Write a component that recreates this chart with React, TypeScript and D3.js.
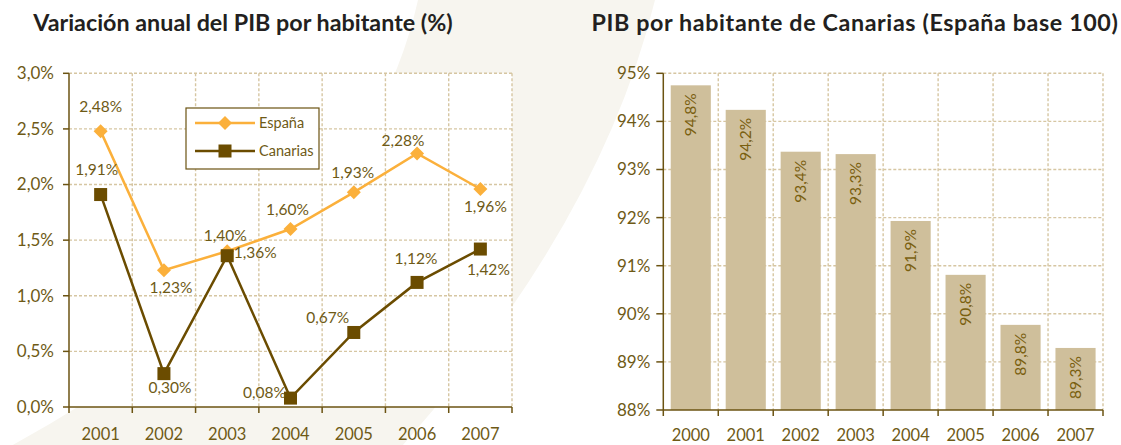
import React from "react";
import * as d3 from "d3";

const years = ["2001", "2002", "2003", "2004", "2005", "2006", "2007"];
const espana = [2.48, 1.23, 1.4, 1.6, 1.93, 2.28, 1.96];
const canarias = [1.91, 0.3, 1.36, 0.08, 0.67, 1.12, 1.42];
const leftTicks = [0, 0.5, 1, 1.5, 2, 2.5, 3];

const barYears = ["2000", "2001", "2002", "2003", "2004", "2005", "2006", "2007"];
const barValues = [94.75, 94.24, 93.37, 93.32, 91.93, 90.81, 89.77, 89.29];
const rightTicks = [88, 89, 90, 91, 92, 93, 94, 95];

// label placement (offset of label centre from its point)
const espanaLabelPos = [
  [0, -25], [7, 17], [-2, -16], [-3, -19], [-1, -20], [-14, -13], [5, 18],
];
const canariasLabelPos = [
  [-4, -25], [6, 14], [28, -3], [-26, -6], [-26, -15], [-1, -24], [8, 21],
];

const W = 1121;
const H = 445;
const FONT = "Lato, 'Open Sans', sans-serif";
const AXIS = "#6b5312";
const TEXT = "#6e5a16";
const GRID = "#d6c6a2";
const ORANGE = "#fbb03b";
const BROWN = "#6b4c00";
const BAR = "#cfbf9b";
const BAND = "#f7f5ef";

const fmt = (v: number, d: number) => v.toFixed(d).replace(".", ",");

export default function App() {
  // Left chart
  const lx0 = 69, lx1 = 512, ly0 = 73.3, ly1 = 407;
  const xL = d3.scaleBand<string>().domain(years).range([lx0, lx1]);
  const yL = d3.scaleLinear().domain([0, 3]).range([ly1, ly0]);
  const cx = (i: number) => (xL(years[i]) as number) + xL.bandwidth() / 2;
  const line = d3
    .line<number>()
    .x((_, i) => cx(i))
    .y((d) => yL(d));

  // Right chart
  const rx0 = 663.3, rx1 = 1103, ry0 = 73.3, ry1 = 410;
  const xR = d3.scaleBand<string>().domain(barYears).range([rx0, rx1]).paddingInner(0.27).paddingOuter(0.135);
  const xRb = d3.scaleBand<string>().domain(barYears).range([rx0, rx1]);
  const yR = d3.scaleLinear().domain([88, 95]).range([ry1, ry0]);

  const diamond = (x: number, y: number, r: number) =>
    `M${x},${y - r}L${x + r},${y}L${x},${y + r}L${x - r},${y}Z`;

  return (
    <svg
      width={W}
      height={H}
      style={{ position: "absolute", left: 0, top: 0, display: "block", background: "#fff" }}
      fontFamily={FONT}
    >
      {/* background swoosh */}
      <path d={`M418,0 Q361,256 0,452 L403,445 Q601,222 655,0 Z`} fill={BAND} />

      {/* Titles */}
      <text x={243} y={31} textAnchor="middle" fontSize={23.3} fontWeight="bold" fill="#231f20">
        Variación anual del PIB por habitante (%)
      </text>
      <text x={855} y={31} textAnchor="middle" fontSize={23.3} fontWeight="bold" fill="#231f20" letterSpacing={0.6}>
        PIB por habitante de Canarias (España base 100)
      </text>

      {/* ===== Left chart ===== */}
      <rect x={lx0} y={ly0} width={lx1 - lx0} height={ly1 - ly0} fill="#fff" />
      {leftTicks.filter((t) => t > 0).map((t) => (
        <line key={"lg" + t} x1={lx0} x2={lx1} y1={yL(t)} y2={yL(t)} stroke={GRID} strokeWidth={1.4} strokeDasharray="3,2" />
      ))}
      {years.map((y) => {
        const x = (xL(y) as number) + xL.bandwidth();
        return (
          <line key={"lv" + y} x1={x} x2={x} y1={ly0} y2={ly1} stroke={GRID} strokeWidth={1.4} strokeDasharray="3,2" />
        );
      })}
      {/* axes */}
      <line x1={lx0} x2={lx0} y1={ly0} y2={ly1} stroke={AXIS} strokeWidth={1.5} />
      <line x1={lx0} x2={lx1} y1={ly1} y2={ly1} stroke={AXIS} strokeWidth={1.5} />
      {leftTicks.map((t) => (
        <g key={"lt" + t}>
          <line x1={lx0 - 6} x2={lx0} y1={yL(t)} y2={yL(t)} stroke={AXIS} strokeWidth={1.5} />
          <text x={lx0 - 15} y={yL(t)} dy="0.35em" textAnchor="end" fontSize={17} fill={TEXT}>
            {fmt(t, 1)}%
          </text>
        </g>
      ))}
      {[lx0, ...years.map((y) => (xL(y) as number) + xL.bandwidth())].map((x, i) => (
        <line key={"lxt" + i} x1={x} x2={x} y1={ly1} y2={ly1 + 6} stroke={AXIS} strokeWidth={1.5} />
      ))}
      {years.map((y, i) => (
        <text key={"lxl" + y} x={cx(i)} y={440} textAnchor="middle" fontSize={16.5} fill={TEXT}>
          {y}
        </text>
      ))}

      {/* lines */}
      <path d={line(espana) || ""} fill="none" stroke={ORANGE} strokeWidth={2.5} />
      {espana.map((v, i) => (
        <path key={"ed" + i} d={diamond(cx(i), yL(v), 7)} fill={ORANGE} />
      ))}
      <path d={line(canarias) || ""} fill="none" stroke={BROWN} strokeWidth={2.5} />
      {canarias.map((v, i) => (
        <rect key={"cs" + i} x={cx(i) - 6.5} y={yL(v) - 6.5} width={13} height={13} fill={BROWN} />
      ))}

      {/* data labels */}
      {espana.map((v, i) => (
        <text key={"el" + i} x={cx(i) + espanaLabelPos[i][0]} y={yL(v) + espanaLabelPos[i][1]} dy="0.35em" textAnchor="middle" fontSize={15.5} fill={TEXT}>
          {fmt(v, 2)}%
        </text>
      ))}
      {canarias.map((v, i) => (
        <text key={"cl" + i} x={cx(i) + canariasLabelPos[i][0]} y={yL(v) + canariasLabelPos[i][1]} dy="0.35em" textAnchor="middle" fontSize={15.5} fill={TEXT}>
          {fmt(v, 2)}%
        </text>
      ))}

      {/* legend */}
      <rect x={186} y={108} width={133} height={61} fill="#fff" stroke={AXIS} strokeWidth={1.2} />
      <line x1={195} x2={255} y1={123} y2={123} stroke={ORANGE} strokeWidth={2.5} />
      <path d={diamond(225, 123, 7)} fill={ORANGE} />
      <text x={259} y={123} dy="0.35em" fontSize={14.5} fill={TEXT}>España</text>
      <line x1={195} x2={255} y1={151} y2={151} stroke={BROWN} strokeWidth={2.5} />
      <rect x={218.5} y={144.5} width={13} height={13} fill={BROWN} />
      <text x={259} y={151} dy="0.35em" fontSize={14.5} fill={TEXT}>Canarias</text>

      {/* ===== Right chart ===== */}
      <rect x={rx0} y={ry0} width={rx1 - rx0} height={ry1 - ry0} fill="#fff" />
      {rightTicks.filter((t) => t > 88).map((t) => (
        <line key={"rg" + t} x1={rx0} x2={rx1} y1={yR(t)} y2={yR(t)} stroke={GRID} strokeWidth={1.4} strokeDasharray="3,2" />
      ))}
      {barYears.map((y) => {
        const x = (xRb(y) as number) + xRb.bandwidth();
        return (
          <line key={"rv" + y} x1={x} x2={x} y1={ry0} y2={ry1} stroke={GRID} strokeWidth={1.4} strokeDasharray="3,2" />
        );
      })}
      {barValues.map((v, i) => {
        const x = xR(barYears[i]) as number;
        return (
          <rect key={"b" + i} x={x} y={yR(v)} width={xR.bandwidth()} height={ry1 - yR(v)} fill={BAR} />
        );
      })}
      {barValues.map((v, i) => {
        const x = (xR(barYears[i]) as number) + xR.bandwidth() / 2;
        const y = yR(v) + 8;
        return (
          <text key={"bl" + i} transform={`translate(${x},${y}) rotate(-90)`} dy="0.35em" textAnchor="end" fontSize={15.5} fill="#7a6010">
            {fmt(v, 1)}%
          </text>
        );
      })}
      <line x1={rx0} x2={rx0} y1={ry0} y2={ry1} stroke={AXIS} strokeWidth={1.5} />
      <line x1={rx0} x2={rx1} y1={ry1} y2={ry1} stroke={AXIS} strokeWidth={1.5} />
      {rightTicks.map((t) => (
        <g key={"rt" + t}>
          <line x1={rx0 - 7} x2={rx0} y1={yR(t)} y2={yR(t)} stroke={AXIS} strokeWidth={1.5} />
          <text x={rx0 - 13} y={yR(t)} dy="0.35em" textAnchor="end" fontSize={17} fill={TEXT}>
            {t}%
          </text>
        </g>
      ))}
      {[rx0, ...barYears.map((y) => (xRb(y) as number) + xRb.bandwidth())].map((x, i) => (
        <line key={"rxt" + i} x1={x} x2={x} y1={ry1} y2={ry1 + 6} stroke={AXIS} strokeWidth={1.5} />
      ))}
      {barYears.map((y) => (
        <text key={"rxl" + y} x={(xRb(y) as number) + xRb.bandwidth() / 2} y={441} textAnchor="middle" fontSize={16.5} fill={TEXT}>
          {y}
        </text>
      ))}
    </svg>
  );
}
